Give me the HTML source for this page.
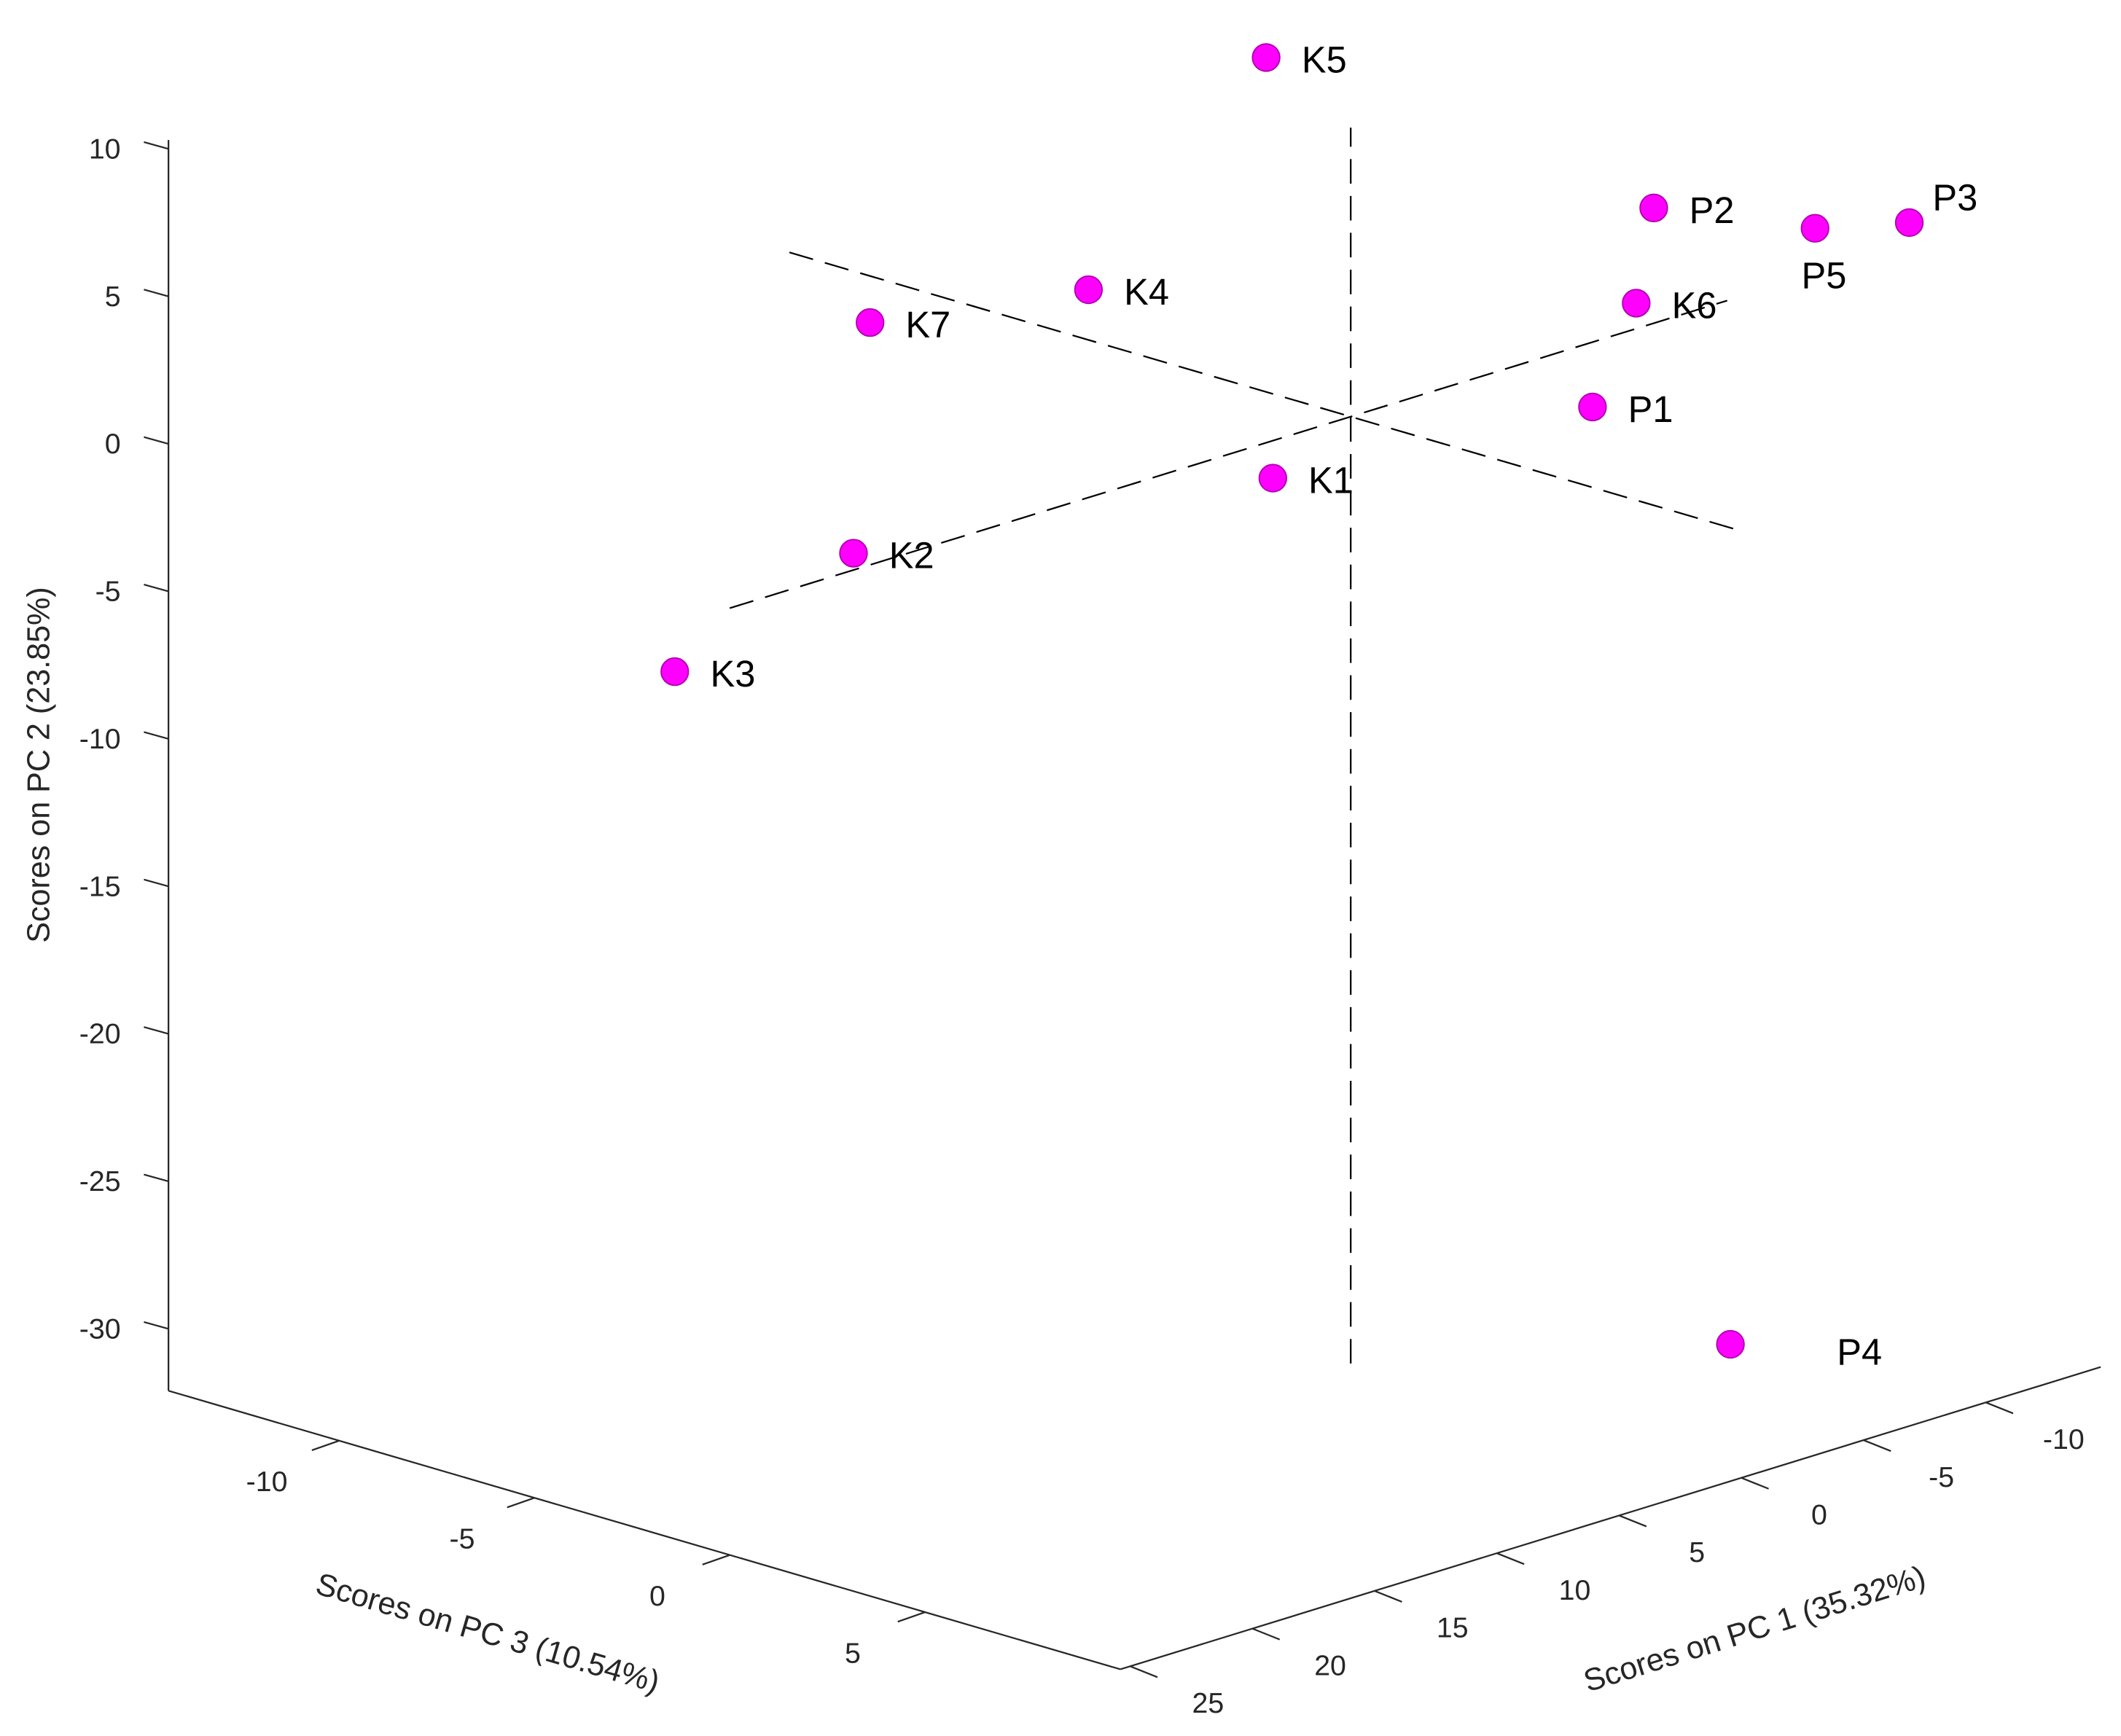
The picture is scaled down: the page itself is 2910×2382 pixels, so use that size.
<!DOCTYPE html>
<html><head><meta charset="utf-8"><style>
html,body{margin:0;padding:0;background:#fff;}
svg{display:block;}
text{font-family:"Liberation Sans",Arial,sans-serif;}
</style></head><body>
<svg id="chart" width="2910" height="2382" viewBox="0 0 1553 1271" xmlns="http://www.w3.org/2000/svg">
<g id="axes"></g>
<g id="guides"></g>
<g id="points"></g>
<text x="0" y="0" transform="translate(36,560) rotate(-90)" text-anchor="middle" font-size="23" fill="#262626">Scores on PC 2 (23.85%)</text>
<text x="0" y="0" transform="translate(355,1203) rotate(16.3)" text-anchor="middle" font-size="23" fill="#262626">Scores on PC 3 (10.54%)</text>
<text x="0" y="0" transform="translate(1287,1200) rotate(-17.4)" text-anchor="middle" font-size="23" fill="#262626">Scores on PC 1 (35.32%)</text>
</svg>
<script>
// data
const labels = ["K5","P2","P3","P5","K4","K7","K6","P1","K1","K2","K3","P4"];
const pc1 = [3.46,-9.20,-14.86,-14.20,1.14,6.88,-10.08,-9.89,-0.01,12.35,13.27,-2.75];
const pc2 = [13.06,5.50,4.72,3.92,2.27,1.85,1.66,-2.20,-2.86,-3.41,-8.74,-29.05];
const pc3 = [0,2,5,3,-6,-8,1,0,-2,-5,-9,8];
const pc1Ticks = [25,20,15,10,5,0,-5,-10];
const pc2Ticks = [10,5,0,-5,-10,-15,-20,-25,-30];
const pc3Ticks = [-10,-5,0,5];
const uLim = [-15.4,25.4], vLim = [-32.1,10.3], wLim = [-14.37,10.0];
const uAxisEnd = -14.7;

const NS = "http://www.w3.org/2000/svg";
function P(u,v,w){ return [989 - 17.9*u + 28.6*w, 305 + 5.52*u + 8.37*w - 21.6*v]; }
function mk(tag, attrs, parent){ const e=document.createElementNS(NS,tag); for(const k in attrs) e.setAttribute(k,attrs[k]); parent.appendChild(e); return e; }
const axes=document.getElementById('axes'), guides=document.getElementById('guides'), pts=document.getElementById('points');
const LC="#262626";
function line(a,b,parent,extra){ const o={x1:a[0],y1:a[1],x2:b[0],y2:b[1],stroke:LC,'stroke-width':1.2}; for(const k in (extra||{})) o[k]=extra[k]; return mk('line',o,parent); }

let e;
e=line(P(uLim[1],vLim[0],wLim[0]),P(uLim[1],vLim[1],wLim[0]),axes);


e=line(P(uLim[1],vLim[0],wLim[0]),P(uLim[1],vLim[0],wLim[1]),axes);


e=line(P(uLim[1],vLim[0],wLim[1]),P(uAxisEnd,vLim[0],wLim[1]),axes);



pc2Ticks.forEach(t=>{ const p=P(uLim[1],t,wLim[0]);
  e=line(p,[p[0]-18,p[1]-5],axes);
  
  
  e=mk('text',{x:p[0]-35,y:p[1]+7,'text-anchor':'end','font-size':21,fill:LC},axes); e.textContent=t;
  
  
});
pc3Ticks.forEach(t=>{ const p=P(uLim[1],vLim[0],t);
  e=line(p,[p[0]-20,p[1]+7],axes);
  
  
  e=mk('text',{x:p[0]-53,y:p[1]+37,'text-anchor':'middle','font-size':21,fill:LC},axes); e.textContent=t;
  
  
});
pc1Ticks.forEach(t=>{ const p=P(t,vLim[0],wLim[1]);
  e=line(p,[p[0]+20,p[1]+8],axes);
  
  
  e=mk('text',{x:p[0]+57,y:p[1]+34,'text-anchor':'middle','font-size':21,fill:LC},axes); e.textContent=t;
  
  
});

const dash={'stroke-dasharray':'18,9','stroke':'#000','stroke-width':1.2};
e=line(P(0,vLim[0],0),P(0,9.8,0),guides,dash);


e=line(P(uLim[1],0,0),P(uLim[0],0,0),guides,dash);


e=line(P(0,0,wLim[0]),P(0,0,wLim[1]),guides,dash);



const labOff={P3:[17,-19],P5:[-10,34],P4:[78,5]};
labels.forEach((lab,i)=>{
  const p=P(pc1[i],pc2[i],pc3[i]);
  e=mk('circle',{cx:p[0],cy:p[1],r:10,fill:'#ff00ff',stroke:'#b000b0','stroke-width':1},pts);
  
  
  const o=labOff[lab]||[26,1];
  e=mk('text',{x:p[0]+o[0],y:p[1]+o[1]+10,'font-size':27,fill:'#000'},pts); e.textContent=lab;
  
  
});
</script>
</body></html>
